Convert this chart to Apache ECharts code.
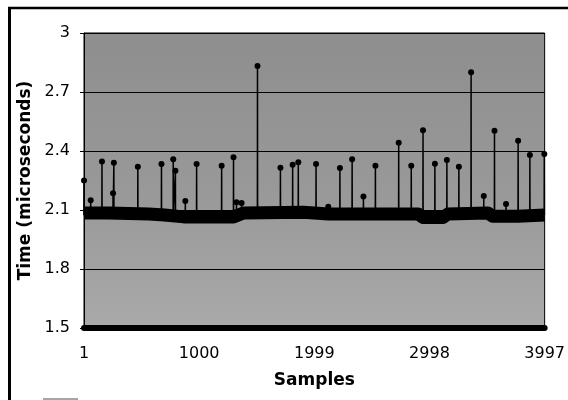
<!DOCTYPE html>
<html>
<head>
<meta charset="utf-8">
<script src="https://cdn.jsdelivr.net/npm/echarts@6/dist/echarts.min.js"></script>
<style>
html,body{margin:0;padding:0;background:#fff;}
#chart{width:568px;height:400px;}
</style>
</head>
<body>
<div id="chart"></div>
<script>
// Tick labels of the sample axis (every 999 samples)
const xTickLabels = ['1', '1000', '1999', '2998', '3997'];
// Spikes: sample number and peak time (microseconds)
const spikeSamples = [1, 59, 157, 253, 260, 468, 673, 775, 794, 880, 978, 1195, 1298, 1324, 1368, 1506, 1705, 1811, 1860, 2014, 2120, 2221, 2327, 2425, 2529, 2731, 2840, 2942, 3045, 3149, 3253, 3359, 3469, 3562, 3662, 3767, 3869, 3994];
const spikeValues = [2.25, 2.15, 2.346, 2.185, 2.34, 2.32, 2.334, 2.358, 2.30, 2.146, 2.334, 2.325, 2.368, 2.14, 2.135, 2.832, 2.315, 2.33, 2.343, 2.334, 2.117, 2.313, 2.358, 2.169, 2.325, 2.442, 2.325, 2.505, 2.335, 2.354, 2.32, 2.80, 2.171, 2.503, 2.13, 2.452, 2.38, 2.385];
// Dense baseline band (level read at several samples)
const baseSamples = [1, 217, 563, 700, 866, 1298, 1385, 1904, 2120, 2596, 2898, 2942, 3115, 3158, 3504, 3547, 3764, 3997];
const baseValues = [2.085, 2.085, 2.08, 2.075, 2.065, 2.065, 2.085, 2.088, 2.08, 2.08, 2.08, 2.062, 2.062, 2.08, 2.085, 2.068, 2.068, 2.075];
const spikeFoot = 2.075;

const baseData = baseSamples.map((s, i) => [s - 1, baseValues[i]]);
const spikeData = [];
spikeSamples.forEach((s, i) => {
  spikeData.push({value: [s - 2, spikeFoot], symbol: 'none'});
  spikeData.push({value: [s - 1, spikeValues[i]], symbol: 'circle', symbolSize: 6});
  spikeData.push({value: [s, spikeFoot], symbol: 'none'});
});

const chart = echarts.init(document.getElementById('chart'), null, {renderer: 'canvas'});
const font = 'DejaVu Sans';
chart.setOption({
  animation: false,
  backgroundColor: '#fff',
  grid: {
    left: 84, right: 20, top: 33, bottom: 72,
    show: true,
    borderColor: '#000', borderWidth: 1,
    backgroundColor: new echarts.graphic.LinearGradient(0, 0, 0, 1, [
      {offset: 0, color: '#8e8e8e'},
      {offset: 0.55, color: '#999999'},
      {offset: 1, color: '#a9a9a9'}
    ])
  },
  xAxis: {
    type: 'value', min: 0, max: 3996, interval: 999,
    name: 'Samples', nameLocation: 'middle', nameGap: 44,
    nameTextStyle: {fontFamily: font, fontSize: 17, fontWeight: 'bold', color: '#000'},
    axisLine: {show: true, lineStyle: {color: '#000', width: 6}},
    axisTick: {show: false},
    splitLine: {show: false},
    axisLabel: {
      margin: 18, fontFamily: font, fontSize: 16, color: '#000',
      formatter: v => xTickLabels[Math.round(v / 999)]
    }
  },
  yAxis: {
    type: 'value', min: 1.5, max: 3, interval: 0.3,
    name: 'Time (microseconds)', nameLocation: 'middle', nameGap: 46,
    nameTextStyle: {fontFamily: font, fontSize: 17, fontWeight: 'bold', color: '#000'},
    axisLine: {show: true, lineStyle: {color: '#000', width: 1}},
    axisTick: {show: true, inside: false, length: 4, lineStyle: {color: '#000'}},
    splitLine: {show: true, lineStyle: {color: '#000', width: 1}},
    axisLabel: {margin: 14, fontFamily: font, fontSize: 16, color: '#000'}
  },
  series: [
    {
      type: 'line', data: baseData, showSymbol: false, z: 2,
      lineStyle: {color: '#000', width: 13, join: 'round', cap: 'butt'}
    },
    {
      type: 'line', data: spikeData, z: 3, clip: true,
      lineStyle: {color: '#000', width: 1.5},
      itemStyle: {color: '#000'}
    }
  ],
  graphic: [
    {type: 'line', shape: {x1: 8, y1: 8, x2: 568, y2: 8}, style: {stroke: '#000', lineWidth: 2.5}},
    {type: 'line', shape: {x1: 9.5, y1: 8, x2: 9.5, y2: 400}, style: {stroke: '#000', lineWidth: 3}},
    {type: 'line', shape: {x1: 43, y1: 399, x2: 78, y2: 399}, style: {stroke: '#888', lineWidth: 1.5}}
  ]
});
</script>
</body>
</html>
